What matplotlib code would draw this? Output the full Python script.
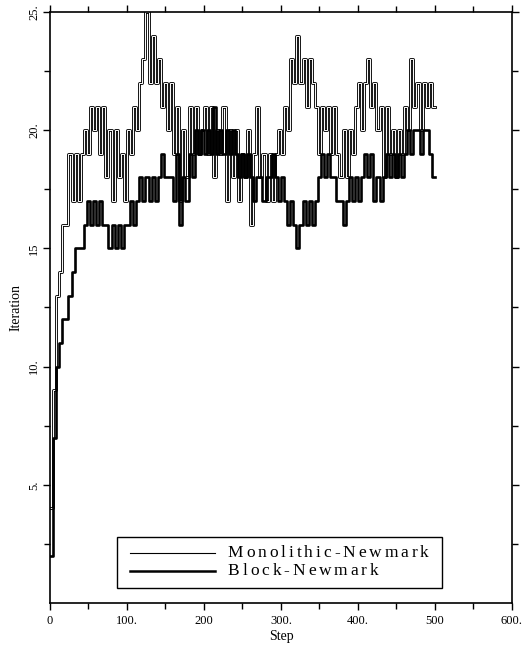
import numpy as np
import matplotlib
matplotlib.use("Agg")
import matplotlib.pyplot as plt
import matplotlib.patheffects as pe
from matplotlib.patches import Rectangle
from matplotlib.font_manager import FontProperties

plt.rcParams["font.family"] = ["Liberation Serif", "DejaVu Serif"]

# iteration counts, one value per block of 4 steps
chunk = 4
monolithic = [4, 9, 13, 14, 16, 16, 19, 17, 19, 17, 19, 20, 19, 21, 20, 21, 19, 21, 18, 20,
              17, 20, 18, 19, 17, 20, 19, 21, 20, 22, 23, 25, 22, 24, 22, 23, 21, 22, 20, 22,
              19, 21, 17, 20, 18, 21, 19, 21, 19, 20, 21, 19, 21, 18, 20, 19, 21, 17, 20, 18,
              20, 17, 19, 18, 20, 16, 19, 21, 18, 19, 17, 19, 17, 19, 20, 19, 21, 20, 23, 22,
              24, 22, 23, 21, 23, 22, 21, 19, 21, 20, 21, 19, 21, 19, 18, 20, 18, 20, 19, 21,
              22, 20, 22, 23, 21, 22, 20, 21, 18, 21, 19, 20, 18, 20, 19, 21, 20, 23, 21, 22,
              20, 22, 21, 22, 21]
block = [2, 7, 10, 11, 12, 12, 13, 14, 15, 15, 15, 16, 17, 16, 17, 16, 17, 16, 16, 15,
         16, 15, 16, 15, 16, 16, 17, 16, 17, 18, 17, 18, 17, 18, 17, 18, 19, 18, 18, 18,
         17, 19, 16, 18, 17, 19, 18, 20, 19, 20, 19, 20, 19, 21, 19, 20, 19, 20, 19, 20,
         19, 18, 19, 18, 19, 18, 17, 18, 18, 17, 18, 18, 19, 18, 17, 18, 17, 16, 17, 16,
         15, 16, 17, 16, 17, 16, 17, 18, 19, 18, 19, 18, 18, 17, 17, 16, 17, 18, 17, 18,
         17, 18, 19, 18, 19, 17, 18, 17, 18, 19, 18, 19, 18, 19, 18, 19, 20, 19, 20, 20,
         19, 20, 20, 19, 18]

x_ticks = [0, 100, 200, 300, 400, 500, 600]
x_labels = ["0", "100.", "200", "300.", "400.", "500", "600."]
y_ticks = [5, 10, 15, 20, 25]
y_labels = ["5.", "10.", "15", "20.", "25."]
names = ["Monolithic-Newmark", "Block-Newmark"]

steps = np.arange(len(monolithic) + 1) * chunk
mono = np.append(monolithic, monolithic[-1])
blk = np.append(block, block[-1])

fig = plt.figure(figsize=(5.3, 6.47), dpi=100)
ax = fig.add_axes([0.0943, 0.068, 0.8717, 0.9135])

ax.plot(steps, mono, drawstyle="steps-post", color="white", lw=0.7,
        path_effects=[pe.Stroke(linewidth=2.0, foreground="black"), pe.Normal()])
ax.plot(steps, blk, drawstyle="steps-post", color="black", lw=1.9)

ax.set_xlim(0, 600)
ax.set_ylim(0, 25)
ax.set_xticks(x_ticks)
ax.set_xticklabels(x_labels, fontsize=9)
ax.set_xticks(np.arange(50, 600, 100), minor=True)
ax.set_yticks(y_ticks)
ax.set_yticklabels(y_labels, fontsize=9, rotation=90, va="center")
ax.set_yticks(np.arange(2.5, 25, 5), minor=True)
ax.tick_params(which="both", direction="out", top=True, right=True, width=1.0)
ax.tick_params(which="major", length=5)
ax.tick_params(which="minor", length=4)
ax.tick_params(axis="x", which="both", labeltop=False)
ax.tick_params(axis="y", which="both", labelright=False, pad=2)
for s in ax.spines.values():
    s.set_linewidth(1.2)

ax.set_xlabel("Step", fontsize=10, labelpad=2)
ax.set_ylabel("Iteration", fontsize=10, labelpad=4)

# legend box drawn by hand (the original has widely tracked lettering)
ax.add_patch(Rectangle((0.145, 0.0254), 0.703, 0.0863, transform=ax.transAxes,
                       facecolor="white", edgecolor="black", lw=1.0, zorder=5))
ax.plot([0.173, 0.357], [0.0846, 0.0846], transform=ax.transAxes, color="black", lw=0.8, zorder=6)
ax.plot([0.173, 0.357], [0.054, 0.054], transform=ax.transAxes, color="black", lw=1.8, zorder=6)

prop = FontProperties(family="Liberation Serif", size=12.5)
renderer = fig.canvas.get_renderer()
ax_w = ax.get_window_extent(renderer).width
track = 2.9
for name, yy in zip(names, [0.0846, 0.054]):
    for i, ch in enumerate(name):
        w = renderer.get_text_width_height_descent(name[:i], prop, ismath=False)[0] if i else 0
        ax.text(0.385 + (w + i * track) / ax_w, yy, ch, transform=ax.transAxes,
                fontproperties=prop, va="center", ha="left", zorder=7)

fig.savefig("out.png", dpi=100)
